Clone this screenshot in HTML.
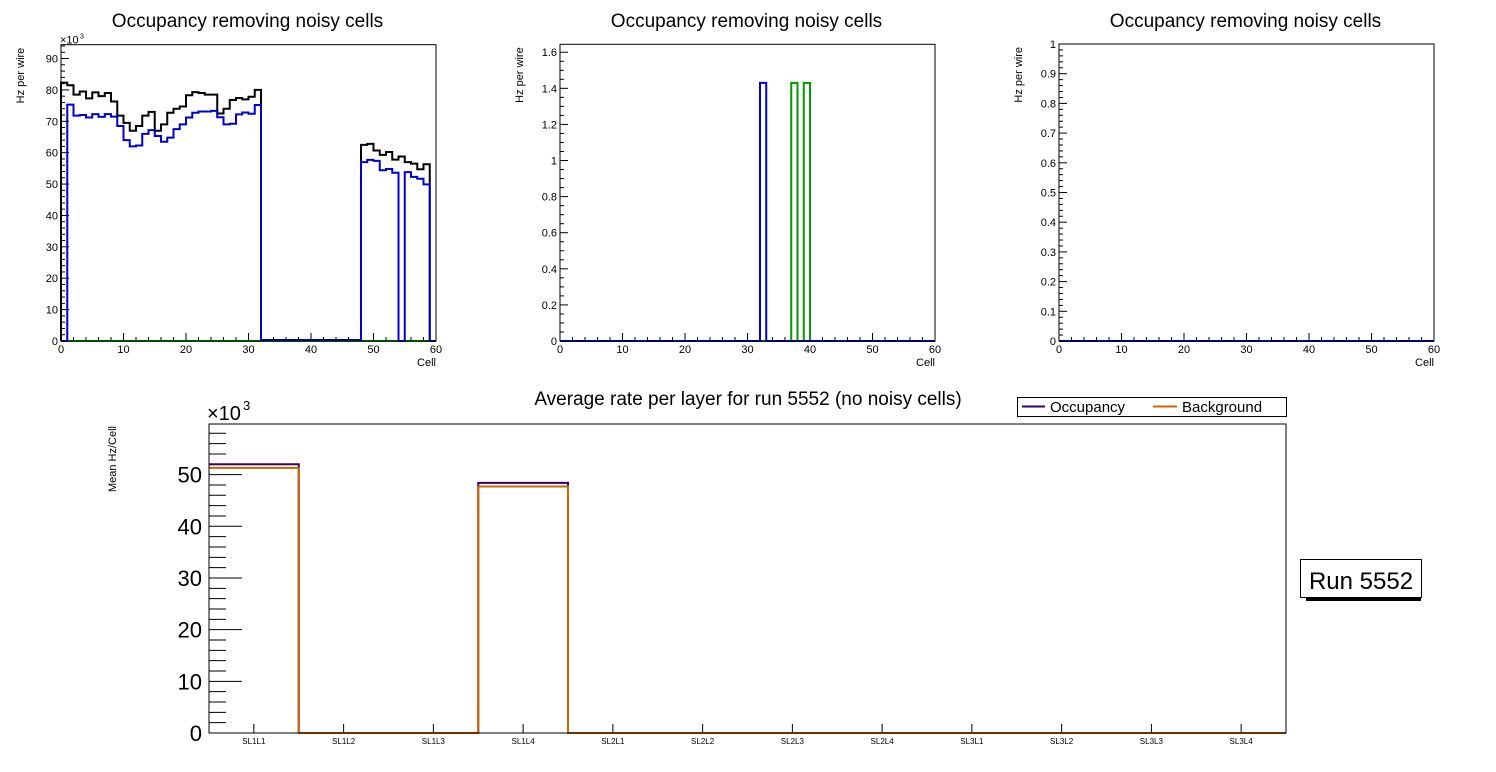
<!DOCTYPE html>
<html><head><meta charset="utf-8">
<style>
html,body{margin:0;padding:0;background:#fff;}
svg{display:block;font-family:"Liberation Sans",sans-serif;}
</style></head>
<body>
<svg id="c" width="1496" height="772" viewBox="0 0 1496 772" xmlns="http://www.w3.org/2000/svg">
<rect width="1496" height="772" fill="#fff"/>
</svg>
<script>
// Panel 1 data (Hz per wire, x10^3), 60 cells
const p1Black = [82.3,81.5,78.5,79.5,77.3,79.2,78,79,76.3,71.8,69.5,67,68.5,71.8,73,67,69,72.7,74,74.7,78.3,79.3,79,78.5,78.5,72.5,74,76.8,77.4,77,77.8,80,
 0.3,0.3,0.3,0.3,0.3,0.3,0.3,0.3,0.3,0.3,0.3,0.3,0.3,0.3,0.3,0.3,
 62.5,62.8,60.7,59.3,60.2,57.8,58.8,57,56.5,54.7,56.3,0];
const p1Blue = [0,75.3,71.8,72,71.2,72.3,71.4,72.3,71.5,68.5,64,62,62.3,66,67.2,65.3,63.5,64.8,67.5,69,71.2,72.7,73.1,73.1,73.3,71.3,69,69.2,72.2,72.8,72.4,75.2,
 0.3,0.3,0.3,0.3,0.3,0.3,0.3,0.3,0.3,0.3,0.3,0.3,0.3,0.3,0.3,0.3,
 57,57.7,57.4,54.4,54.8,53.6,0,53.8,52.3,51.7,49.9,0];
const p1Green = new Array(60).fill(0);
// Panel 2 data
const p2BlueBins = [32];
const p2BlueVals = [1.43];
const p2GreenBins = [37,39];
const p2GreenVals = [1.43,1.43];
// Bottom chart
const layers = ["SL1L1","SL1L2","SL1L3","SL1L4","SL2L1","SL2L2","SL2L3","SL2L4","SL3L1","SL3L2","SL3L3","SL3L4"];
const occupancy = [52.0,0,0,48.4,0,0,0,0,0,0,0,0];
const background = [51.3,0,0,47.7,0,0,0,0,0,0,0,0];

const svg=document.getElementById('c');
const NS="http://www.w3.org/2000/svg";
function mk(tag,attrs,parent){const e=document.createElementNS(NS,tag);for(const k in attrs)e.setAttribute(k,attrs[k]);(parent||svg).appendChild(e);return e;}
function txt(s,attrs,parent){const e=mk('text',attrs,parent);e.textContent=s;return e;}

function histPath(vals,bins,nb,xs,ys){
  let d='';
  for(let i=0;i<nb;i++){
    const v=vals[i];
    const x0=xs(i),x1=xs(i+1),y=ys(v);
    if(i===0)d+=`M${x0},${ys(0)} L${x0},${y} L${x1},${y}`;
    else d+=` L${x0},${y} L${x1},${y}`;
  }
  d+=` L${xs(nb)},${ys(0)}`;
  return d;
}

function panel(opt){
  const {x0,x1,y0,y1,ymax,name,title,majY,minY,fmt,exp}=opt;
  const g=mk('g',{});
  
  
  const xs=v=>x0+(x1-x0)*v/60;
  const ys=v=>y0-(y0-y1)*v/ymax;
  const t=txt(title,{x:(x0+x1)/2-1,y:27,'text-anchor':'middle','font-size':19},g);
  
  
  for(let v=0;v<=60;v+=2){
    const maj=v%10===0;
    mk('line',{x1:xs(v),x2:xs(v),y1:y0,y2:y0-(maj?8:4),stroke:'#000','stroke-width':1},g);
    if(maj){const l=txt(String(v),{x:xs(v),y:y0+12,'text-anchor':'middle','font-size':11},g);
      }
  }
  for(let v=0;v<=ymax+1e-9;v+=minY){
    const maj=Math.abs(v/majY-Math.round(v/majY))<1e-6;
    mk('line',{x1:x0,x2:x0+(maj?8:4),y1:ys(v),y2:ys(v),stroke:'#000','stroke-width':1},g);
    if(maj){const l=txt(fmt(v),{x:x0-3,y:ys(v)+4,'text-anchor':'end','font-size':11},g);
      }
  }
  const xl=txt('Cell',{x:x1,y:y0+25,'text-anchor':'end','font-size':11},g);
  
  const yl=txt('Hz per wire',{x:0,y:0,'text-anchor':'end','font-size':11,transform:`translate(${x0-37},${y1+3}) rotate(-90)`},g);
  
  if(exp){const e=txt('×10',{x:x0-1,y:y1-1,'font-size':11},g);const s=txt('3',{x:x0+19,y:y1-6,'font-size':7},g);
    }
  return {g,xs,ys};
}

function sparse(bins,vals){const a=new Array(60).fill(0);bins.forEach((b,i)=>a[b]=vals[i]);return a;}

let P=panel({x0:61,x1:436,y0:341,y1:44.7,ymax:94.4,name:'panel-layer-1',title:'Occupancy removing noisy cells',majY:10,minY:2,fmt:v=>String(Math.round(v)),exp:true});
let s;
s=mk('path',{d:histPath(p1Green,null,60,P.xs,P.ys),fill:'none',stroke:'#009900','stroke-width':2},P.g);

s=mk('path',{d:histPath(p1Black,null,60,P.xs,P.ys),fill:'none',stroke:'#000','stroke-width':2},P.g);

s=mk('path',{d:histPath(p1Blue,null,60,P.xs,P.ys),fill:'none',stroke:'#0000d0','stroke-width':2},P.g);

mk('rect',{x:61,y:44.7,width:375,height:296.3,fill:'none',stroke:'#000','stroke-width':1},P.g);

P=panel({x0:560,x1:935,y0:341,y1:44.3,ymax:1.644,name:'panel-layer-2',title:'Occupancy removing noisy cells',majY:0.2,minY:0.05,fmt:v=>{const r=Math.round(v*10)/10;return r===0?'0':(Number.isInteger(r)?String(r):r.toFixed(1));},exp:false});
s=mk('path',{d:histPath(sparse(p2GreenBins,p2GreenVals),null,60,P.xs,P.ys),fill:'none',stroke:'#009900','stroke-width':2},P.g);

s=mk('path',{d:histPath(sparse(p2BlueBins,p2BlueVals),null,60,P.xs,P.ys),fill:'none',stroke:'#0000d0','stroke-width':2},P.g);

mk('rect',{x:560,y:44.3,width:375,height:296.7,fill:'none',stroke:'#000','stroke-width':1},P.g);

P=panel({x0:1059,x1:1434,y0:341,y1:44,ymax:1,name:'panel-layer-3',title:'Occupancy removing noisy cells',majY:0.1,minY:0.02,fmt:v=>{const r=Math.round(v*10)/10;return r===0?'0':(r===1?'1':r.toFixed(1));},exp:false});
s=mk('path',{d:histPath(new Array(60).fill(0),null,60,P.xs,P.ys),fill:'none',stroke:'#0000d0','stroke-width':2},P.g);

mk('rect',{x:1059,y:44,width:375,height:297,fill:'none',stroke:'#000','stroke-width':1},P.g);

(function(){
  const x0=209,x1=1286,y0=733,y1=424,ymax=59.8;
  const g=mk('g',{});
  
  
  const n=layers.length;
  const xs=i=>x0+(x1-x0)*i/n;
  const ys=v=>y0-(y0-y1)*v/ymax;
  let t=txt('Average rate per layer for run 5552 (no noisy cells)',{x:748,y:405,'text-anchor':'middle','font-size':19},g);
  
  for(let v=0;v<=ymax;v+=2){
    const maj=v%10===0;
    mk('line',{x1:x0,x2:x0+(maj?33:17),y1:ys(v),y2:ys(v),stroke:'#000','stroke-width':1},g);
    if(maj){const l=txt(String(v),{x:x0-7,y:ys(v)+8,'text-anchor':'end','font-size':22},g);
      }
  }
  const e=txt('×10',{x:x0-2,y:y1-4,'font-size':20},g);
  
  txt('3',{x:x0+34,y:y1-14,'font-size':13},g);
  for(let i=0;i<n;i++){
    const cx=(xs(i)+xs(i+1))/2;
    mk('line',{x1:cx,x2:cx,y1:y0,y2:y0-9,stroke:'#000','stroke-width':1},g);
    const l=txt(layers[i],{x:cx,y:y0+11,'text-anchor':'middle','font-size':8},g);
    
  }
  const yl=txt('Mean Hz/Cell',{x:0,y:0,'text-anchor':'end','font-size':11,transform:`translate(116,426) rotate(-90)`},g);
  
  const hp=(vals)=>{let d='';for(let i=0;i<n;i++){const y=ys(vals[i]);d+=(i===0?`M${xs(0)},${y}`:` L${xs(i)},${y}`)+` L${xs(i+1)},${y}`;}d+=` L${xs(n)},${y0}`;return d;};
  let s=mk('path',{d:hp(occupancy),fill:'none',stroke:'#330066','stroke-width':2},g);
  
  s=mk('path',{d:hp(background),fill:'none',stroke:'#cc6600','stroke-width':2},g);
  
  mk('rect',{x:x0,y:y1,width:x1-x0,height:y0-y1,fill:'none',stroke:'#000','stroke-width':1},g);
  const lg=mk('g',{});
  
  
  mk('rect',{x:1017.5,y:397.5,width:269,height:19,fill:'#fff',stroke:'#000','stroke-width':1},lg);
  mk('line',{x1:1022,x2:1045,y1:406.5,y2:406.5,stroke:'#330066','stroke-width':2},lg);
  txt('Occupancy',{x:1050,y:412,'font-size':15},lg);
  mk('line',{x1:1153,x2:1177,y1:406.5,y2:406.5,stroke:'#cc6600','stroke-width':2},lg);
  txt('Background',{x:1182,y:412,'font-size':15},lg);
  const rb=mk('g',{});
  
  
  mk('rect',{x:1306,y:597,width:115,height:4,fill:'#000'},rb);
  mk('rect',{x:1300.5,y:559.5,width:121,height:38,fill:'#fff',stroke:'#000','stroke-width':1},rb);
  txt('Run 5552',{x:1361,y:589,'text-anchor':'middle','font-size':24},rb);
})();
</script>
</body></html>
